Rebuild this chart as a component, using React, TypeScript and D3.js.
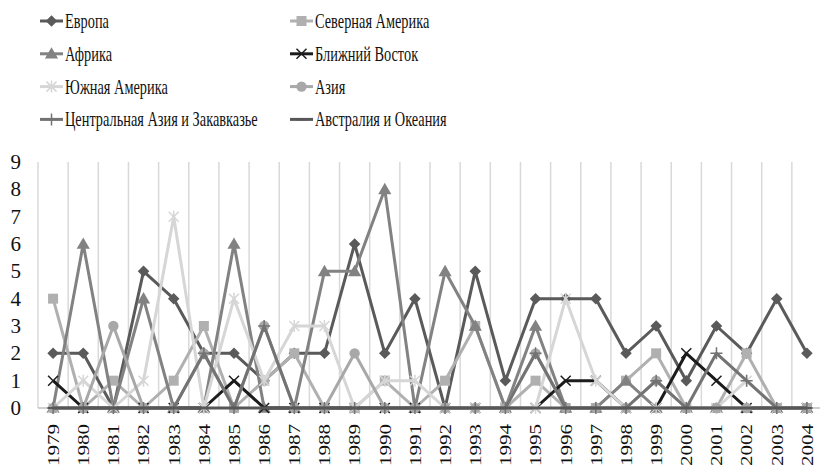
import React from "react";
import * as d3 from "d3";

const years = ["1979","1980","1981","1982","1983","1984","1985","1986","1987","1988","1989","1990","1991","1992","1993","1994","1995","1996","1997","1998","1999","2000","2001","2002","2003","2004"];

const europe = [2,2,0,5,4,2,2,1,2,2,6,2,4,0,5,1,4,4,4,2,3,1,3,2,4,2];
const northAmerica = [4,0,1,0,1,3,0,1,2,0,0,1,0,1,3,0,1,0,0,1,2,0,0,2,0,0];
const africa = [0,6,0,4,0,0,6,0,0,5,5,8,0,5,3,0,3,0,0,1,0,0,0,0,0,0];
const middleEast = [1,0,0,0,0,0,1,0,0,0,0,0,0,0,0,0,0,1,1,0,0,2,1,0,0,0];
const southAmerica = [0,1,0,1,7,0,4,1,3,3,0,1,1,0,0,0,0,4,1,0,0,0,0,1,0,0];
const asia = [0,0,3,0,0,2,0,3,0,0,2,0,0,0,0,0,2,0,0,0,1,0,0,0,0,0];
const centralAsia = [0,0,0,0,0,2,0,3,0,0,0,0,0,0,0,0,2,0,0,0,1,0,2,1,0,0];
const australia = [0,0,0,0,0,0,0,0,0,0,0,0,0,0,0,0,0,0,0,0,0,0,0,0,0,0];

const yTicks = [0,1,2,3,4,5,6,7,8,9];

type Marker = "diamond" | "square" | "triangle" | "x" | "star" | "circle" | "plus" | "dash";

const series: { name: string; values: number[]; color: string; marker: Marker }[] = [
  { name: "Европа", values: europe, color: "#5a5a5a", marker: "diamond" },
  { name: "Северная Америка", values: northAmerica, color: "#b0b0b0", marker: "square" },
  { name: "Африка", values: africa, color: "#828282", marker: "triangle" },
  { name: "Ближний Восток", values: middleEast, color: "#1c1c1c", marker: "x" },
  { name: "Южная Америка", values: southAmerica, color: "#d6d6d6", marker: "star" },
  { name: "Азия", values: asia, color: "#a8a8a8", marker: "circle" },
  { name: "Центральная Азия и Закавказье", values: centralAsia, color: "#737373", marker: "plus" },
  { name: "Австралия и Океания", values: australia, color: "#575757", marker: "dash" },
];

const FONT = "'Liberation Serif', 'Times New Roman', serif";

function MarkerShape({ type, x, y, color }: { type: Marker; x: number; y: number; color: string }) {
  switch (type) {
    case "diamond":
      return <path d={d3.symbol(d3.symbolDiamond2, 85)()!} transform={`translate(${x},${y})`} fill={color} />;
    case "square":
      return <rect x={x - 5} y={y - 5} width={10} height={10} fill={color} />;
    case "triangle":
      return <path d={d3.symbol(d3.symbolTriangle, 75)()!} transform={`translate(${x},${y + 1})`} fill={color} />;
    case "circle":
      return <circle cx={x} cy={y} r={5.2} fill={color} />;
    case "x":
      return <path d={`M${x - 5},${y - 5}L${x + 5},${y + 5}M${x - 5},${y + 5}L${x + 5},${y - 5}`} stroke={color} strokeWidth={1.5} />;
    case "star":
      return <path d={`M${x - 5},${y - 5}L${x + 5},${y + 5}M${x - 5},${y + 5}L${x + 5},${y - 5}M${x},${y - 6}L${x},${y + 6}`} stroke={color} strokeWidth={1.5} />;
    case "plus":
      return <path d={`M${x - 6},${y}L${x + 6},${y}M${x},${y - 6}L${x},${y + 6}`} stroke={color} strokeWidth={1.5} />;
    case "dash":
      return <path d={`M${x - 5},${y}L${x + 5},${y}`} stroke={color} strokeWidth={2} />;
  }
}

export default function App() {
  const width = 820;
  const height = 475;
  const x = d3.scaleBand<string>().domain(years).range([38, 822]).padding(0);
  const y = d3.scaleLinear().domain([0, 9]).range([408, 162]);
  const cx = (yr: string) => (x(yr) ?? 0) + x.bandwidth() / 2;

  const line = d3
    .line<number>()
    .x((_, i) => cx(years[i]))
    .y((v) => y(v));

  const legendCols = [40, 290];
  const legendRowY = (r: number) => 21 + r * 32.8;

  return (
    <svg width={width} height={height} style={{ position: "absolute", left: 0, top: 0, background: "#fff" }} fontFamily={FONT}>
      <rect x={0} y={0} width={width} height={height} fill="#fff" />
      {/* legend */}
      {series.map((s, i) => {
        const col = i % 2;
        const row = Math.floor(i / 2);
        const lx = legendCols[col];
        const ly = legendRowY(row);
        return (
          <g key={s.name}>
            <line x1={lx} x2={lx + 23} y1={ly} y2={ly} stroke={s.color} strokeWidth={3} />
            <MarkerShape type={s.marker} x={lx + 11.5} y={ly} color={s.color} />
            <text
              transform={`translate(${lx + 25},${ly}) scale(0.7,1)`}
              dominantBaseline="central"
              fontSize={20.5}
              fill="#111"
            >
              {s.name}
            </text>
          </g>
        );
      })}

      {/* vertical gridlines */}
      {years.map((yr) => (
        <line key={yr} x1={x(yr)!} x2={x(yr)!} y1={y(9)} y2={y(0)} stroke="#d9d9d9" strokeWidth={1.5} />
      ))}
      <line x1={822} x2={822} y1={y(9)} y2={y(0)} stroke="#d9d9d9" strokeWidth={1.5} />

      {/* y ticks */}
      {yTicks.map((t) => (
        <text key={t} x={21} y={y(t)} textAnchor="end" dominantBaseline="central" fontSize={21} fill="#111">
          {t}
        </text>
      ))}

      {/* x axis line */}
      <line x1={38} x2={822} y1={y(0)} y2={y(0)} stroke="#bfbfbf" strokeWidth={1.5} />

      {/* x tick labels */}
      {years.map((yr) => (
        <text
          key={yr}
          transform={`translate(${cx(yr)},${424}) rotate(-90) scale(1,0.82)`}
          textAnchor="end"
          dominantBaseline="central"
          fontSize={21}
          fill="#111"
        >
          {yr}
        </text>
      ))}

      {/* series */}
      {series.map((s) => (
        <g key={s.name}>
          <path d={line(s.values)!} fill="none" stroke={s.color} strokeWidth={3} strokeLinejoin="round" />
          {s.values.map((v, i) => (
            <MarkerShape key={i} type={s.marker} x={cx(years[i])} y={y(v)} color={s.color} />
          ))}
        </g>
      ))}
    </svg>
  );
}
